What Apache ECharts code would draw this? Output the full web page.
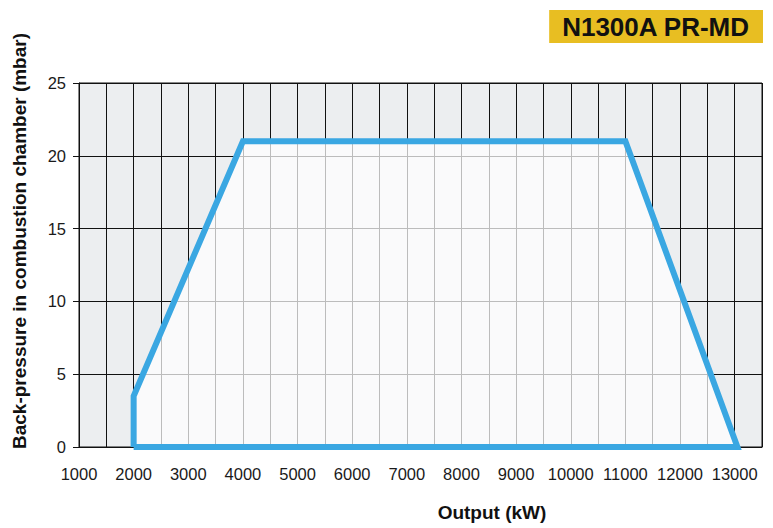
<!DOCTYPE html>
<html>
<head>
<meta charset="utf-8">
<script src="https://cdn.jsdelivr.net/npm/echarts@6/dist/echarts.min.js"></script>
<style>
html,body{margin:0;padding:0;background:#fff;}
#chart{width:773px;height:528px;}
</style>
</head>
<body>
<div id="chart"></div>
<script>
// Operating envelope of the burner (closed outline, in drawing order)
var outputKW = [2000, 2000, 4000, 11000, 13050, 2000];
var backPressure = [0, 3.5, 21, 21, 0, 0];
// Axis ranges / ticks
var xMin = 1000, xMax = 13500, xStep = 500, xLabelStep = 1000;
var yMin = 0, yMax = 25, yStep = 5;
var titleText = 'N1300A PR-MD';
var xName = 'Output (kW)';
var yName = 'Back-pressure in combustion chamber (mbar)';

var outline = outputKW.map(function (x, i) { return [x, backPressure[i]]; });
var fill = outline.slice(0, outline.length - 1);

var font = 'Liberation Sans, Arial, Helvetica, sans-serif';
var chart = echarts.init(document.getElementById('chart'), null, { renderer: 'svg' });
chart.setOption({
  animation: false,
  backgroundColor: '#ffffff',
  title: {
    text: titleText,
    right: 10,
    top: 10,
    backgroundColor: '#e8be22',
    padding: [4, 13, 3, 13],
    textStyle: { fontFamily: font, fontSize: 26, fontWeight: 900, color: '#111', lineHeight: 26 }
  },
  grid: {
    left: 79, right: 11, top: 83, bottom: 81,
    show: true, backgroundColor: '#eceef0', borderColor: '#111', borderWidth: 1
  },
  xAxis: {
    type: 'value', min: xMin, max: xMax, interval: xStep,
    axisLine: { show: true, lineStyle: { color: '#111', width: 1 } },
    axisTick: { show: false },
    axisLabel: {
      color: '#1a1a1a', fontSize: 16.5, fontFamily: font, margin: 18,
      formatter: function (v) { return v % xLabelStep === 0 ? String(v) : ''; }
    },
    splitLine: { show: true, lineStyle: { color: '#111', width: 1 } }
  },
  yAxis: {
    type: 'value', min: yMin, max: yMax, interval: yStep,
    axisLine: { show: true, lineStyle: { color: '#111', width: 1 } },
    axisTick: { show: true, length: 6, lineStyle: { color: '#111' } },
    axisLabel: { color: '#1a1a1a', fontSize: 16.5, fontFamily: font, margin: 13 },
    splitLine: { show: true, lineStyle: { color: '#111', width: 1 } }
  },
  graphic: [
    {
      type: 'text', x: 19, y: 241, rotation: Math.PI / 2,
      style: { text: yName, fontFamily: font, fontSize: 19, fontWeight: 'bold', fill: '#111', align: 'center', verticalAlign: 'middle' }
    },
    {
      type: 'text', x: 492, y: 512,
      style: { text: xName, fontFamily: font, fontSize: 19, fontWeight: 'bold', fill: '#111', align: 'center', verticalAlign: 'middle' }
    }
  ],
  series: [
    {
      type: 'line', data: fill, showSymbol: false, silent: true, z: 1,
      lineStyle: { width: 0 },
      areaStyle: { color: 'rgba(255,255,255,0.72)', opacity: 1 }
    },
    {
      type: 'line', data: outline, showSymbol: false, silent: true, z: 3,
      lineStyle: { color: '#3aa7e2', width: 6, join: 'miter', cap: 'butt' }
    }
  ]
});
</script>
</body>
</html>
